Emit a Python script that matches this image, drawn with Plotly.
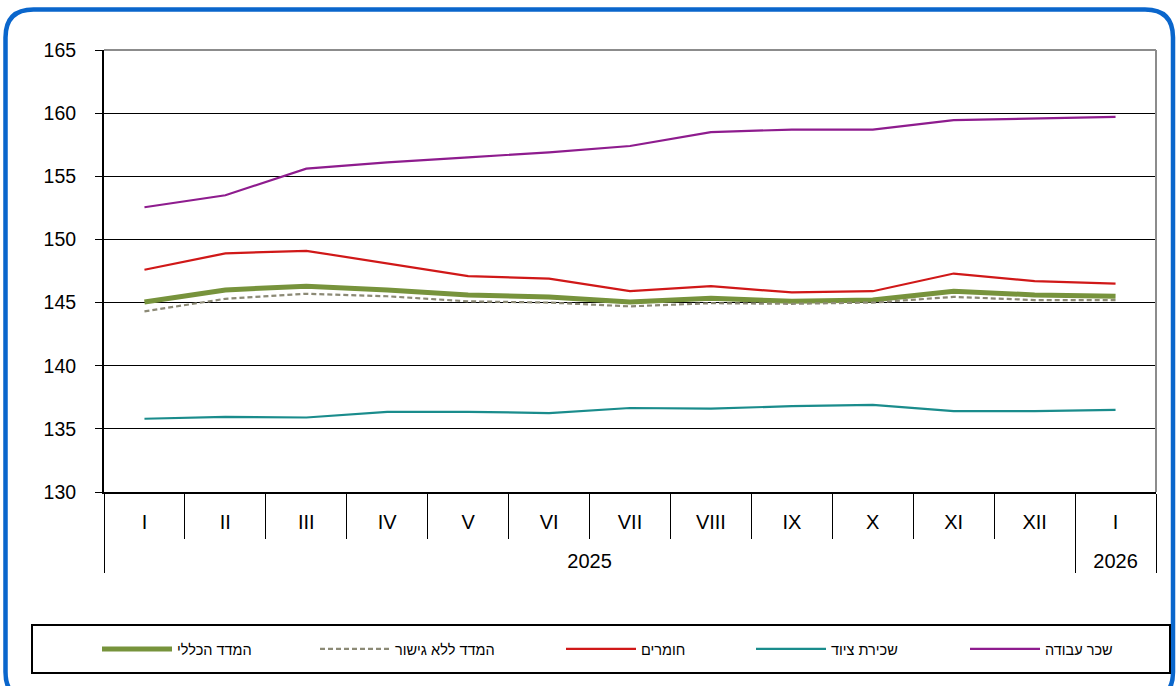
import plotly.graph_objects as go

years = ["2025"] * 12 + ["2026"]
months = ["I", "II", "III", "IV", "V", "VI", "VII", "VIII", "IX", "X", "XI", "XII", "I"]

general = [145.05, 146.0, 146.3, 146.0, 145.6, 145.45, 145.05, 145.35, 145.1, 145.2, 145.9, 145.6, 145.5]
no_bridge = [144.3, 145.3, 145.7, 145.5, 145.1, 145.0, 144.7, 144.95, 144.9, 145.0, 145.45, 145.2, 145.2]
materials = [147.6, 148.9, 149.1, 148.1, 147.1, 146.9, 145.9, 146.3, 145.8, 145.9, 147.3, 146.7, 146.5]
equipment = [135.8, 135.95, 135.9, 136.35, 136.35, 136.25, 136.65, 136.6, 136.8, 136.9, 136.4, 136.4, 136.5]
labor = [152.55, 153.5, 155.6, 156.1, 156.5, 156.9, 157.4, 158.5, 158.7, 158.7, 159.45, 159.6, 159.7]

names = ["המדד הכללי", "המדד ללא גישור", "חומרים", "שכירת ציוד", "שכר עבודה"]

W, H = 1176, 686
L, R, T, B = 104, 20, 50, 194
PW, PH = W - L - R, H - T - B
FONT = "Arial, Liberation Sans, DejaVu Sans"


def px(x):
    return (x - L) / PW


def py(y):
    return (H - B - y) / PH


# outer (year) labels carry a leading line break to push them one row lower
x = [["<br>" + y for y in years], months]
styles = [
    dict(color="#77933C", width=5),
    dict(color="#8C8A76", width=2.2, dash="5px,3px"),
    dict(color="#D01818", width=2.2),
    dict(color="#1A8C8C", width=2.2),
    dict(color="#8E1C8E", width=2.2),
]
series = [general, no_bridge, materials, equipment, labor]
legend_ids = ["legend", "legend2", "legend3", "legend4", "legend5"]
legend_x = [97, 315, 561, 751, 965]

fig = go.Figure()
for s, nm, st, lid in zip(series, names, styles, legend_ids):
    fig.add_trace(go.Scatter(x=x, y=s, mode="lines", name=nm, line=st, legend=lid))

# blue rounded frame
x0, x1 = px(5.5), px(1173)
yt, yb = py(9.5), py(700)
rx, ry = 28 / PW, 28 / PH
frame = (f"M{x0+rx},{yt} L{x1-rx},{yt} Q{x1},{yt} {x1},{yt-ry} "
         f"L{x1},{yb+ry} Q{x1},{yb} {x1-rx},{yb} L{x0+rx},{yb} "
         f"Q{x0},{yb} {x0},{yb+ry} L{x0},{yt-ry} Q{x0},{yt} {x0+rx},{yt} Z")

shapes = [
    dict(type="path", xref="paper", yref="paper", path=frame,
         line=dict(color="#0A66CC", width=4.5), layer="above"),
    dict(type="line", xref="paper", yref="paper", x0=0, x1=1, y0=1, y1=1,
         line=dict(color="#8C8C8C", width=2), layer="above"),
    dict(type="line", xref="paper", yref="paper", x0=1, x1=1, y0=0, y1=1,
         line=dict(color="#8C8C8C", width=2), layer="above"),
    dict(type="rect", xref="paper", yref="paper", x0=px(32), x1=px(1170),
         y0=py(673), y1=py(625), line=dict(color="black", width=2), layer="above"),
]

legends = {}
for lid, lx in zip(legend_ids, legend_x):
    legends[lid] = dict(orientation="h", x=px(lx), xanchor="left", y=py(649), yanchor="middle",
                        font=dict(size=14.5, family=FONT), bgcolor="rgba(0,0,0,0)",
                        itemwidth=70)

fig.update_layout(
    width=W, height=H,
    margin=dict(l=L, r=R, t=T, b=B),
    paper_bgcolor="white", plot_bgcolor="white",
    font=dict(family=FONT, color="black"),
    showlegend=True,
    shapes=shapes,
    xaxis=dict(type="multicategory", range=[-0.5, 12.5], showgrid=False, showline=True,
               linecolor="black", linewidth=2, ticks="outside", ticklen=45, tickcolor="black",
               tickwidth=1, showdividers=True, dividercolor="black", dividerwidth=1,
               tickfont=dict(size=20), ticklabelstandoff=11, zeroline=False),
    yaxis=dict(range=[130, 165], dtick=5, showgrid=True, gridcolor="black", gridwidth=1,
               showline=True, linecolor="black", linewidth=2, ticks="outside", ticklen=7,
               tickcolor="black", tickfont=dict(size=19.5), ticklabelstandoff=15, zeroline=False),
    **legends,
)

fig.write_html("out.html", post_script="document.body.style.margin='0';",
               config={"displayModeBar": False})
